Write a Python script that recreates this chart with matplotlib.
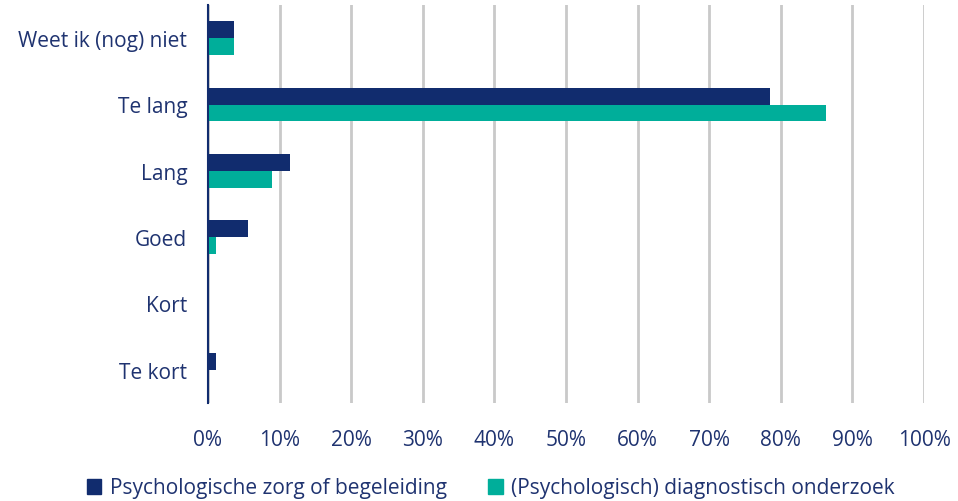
import matplotlib
matplotlib.use("Agg")
import matplotlib.pyplot as plt
from matplotlib.patches import Patch
from matplotlib.ticker import PercentFormatter

categories = ["Weet ik (nog) niet", "Te lang", "Lang", "Goed", "Kort", "Te kort"]
zorg = [3.7, 78.5, 11.5, 5.6, 0.0, 1.1]
diagnostisch = [3.7, 86.3, 8.9, 1.1, 0.0, 0.0]
series_names = ["Psychologische zorg of begeleiding", "(Psychologisch) diagnostisch onderzoek"]

navy = "#112C6E"
teal = "#00AE9A"
text_col = "#1F3370"
grid_col = "#C9C9C9"

plt.rcParams['font.family'] = ['Open Sans', 'DejaVu Sans']

fig = plt.figure(figsize=(9.58, 5.02), dpi=100)
ax = fig.add_axes([208 / 958, 1 - 404 / 502, (924 - 208) / 958, (404 - 6) / 502])

ys = list(range(len(categories)))
h = 0.255
ax.barh([y - h / 2 for y in ys], zorg, height=h, color=navy, zorder=3)
ax.barh([y + h / 2 for y in ys], diagnostisch, height=h, color=teal, zorder=3)

ax.set_xlim(0, 100)
ax.set_ylim(len(categories) - 0.5, -0.5)
ax.set_xticks(range(0, 101, 10))
ax.xaxis.set_major_formatter(PercentFormatter(decimals=0))
ax.set_yticks(ys)
ax.set_yticklabels(categories)

ax.grid(axis='x', color=grid_col, linewidth=2, zorder=0)
for s in ["top", "right", "bottom"]:
    ax.spines[s].set_visible(False)
ax.spines["left"].set_color(navy)
ax.spines["left"].set_linewidth(1.5)
ax.spines["left"].set_zorder(4)

ax.tick_params(axis='y', length=0, pad=15, labelsize=15, labelcolor=text_col)
ax.tick_params(axis='x', length=0, pad=19, labelsize=15, labelcolor=text_col)

handles = [Patch(color=navy), Patch(color=teal)]
fig.legend(handles, series_names, loc="center", bbox_to_anchor=(0.5125, 1 - 489 / 502),
           ncol=2, frameon=False, fontsize=15, handlelength=0.7, handleheight=0.7,
           handletextpad=0.4, columnspacing=2.0, labelcolor=text_col)

fig.savefig("out.png", dpi=100)
